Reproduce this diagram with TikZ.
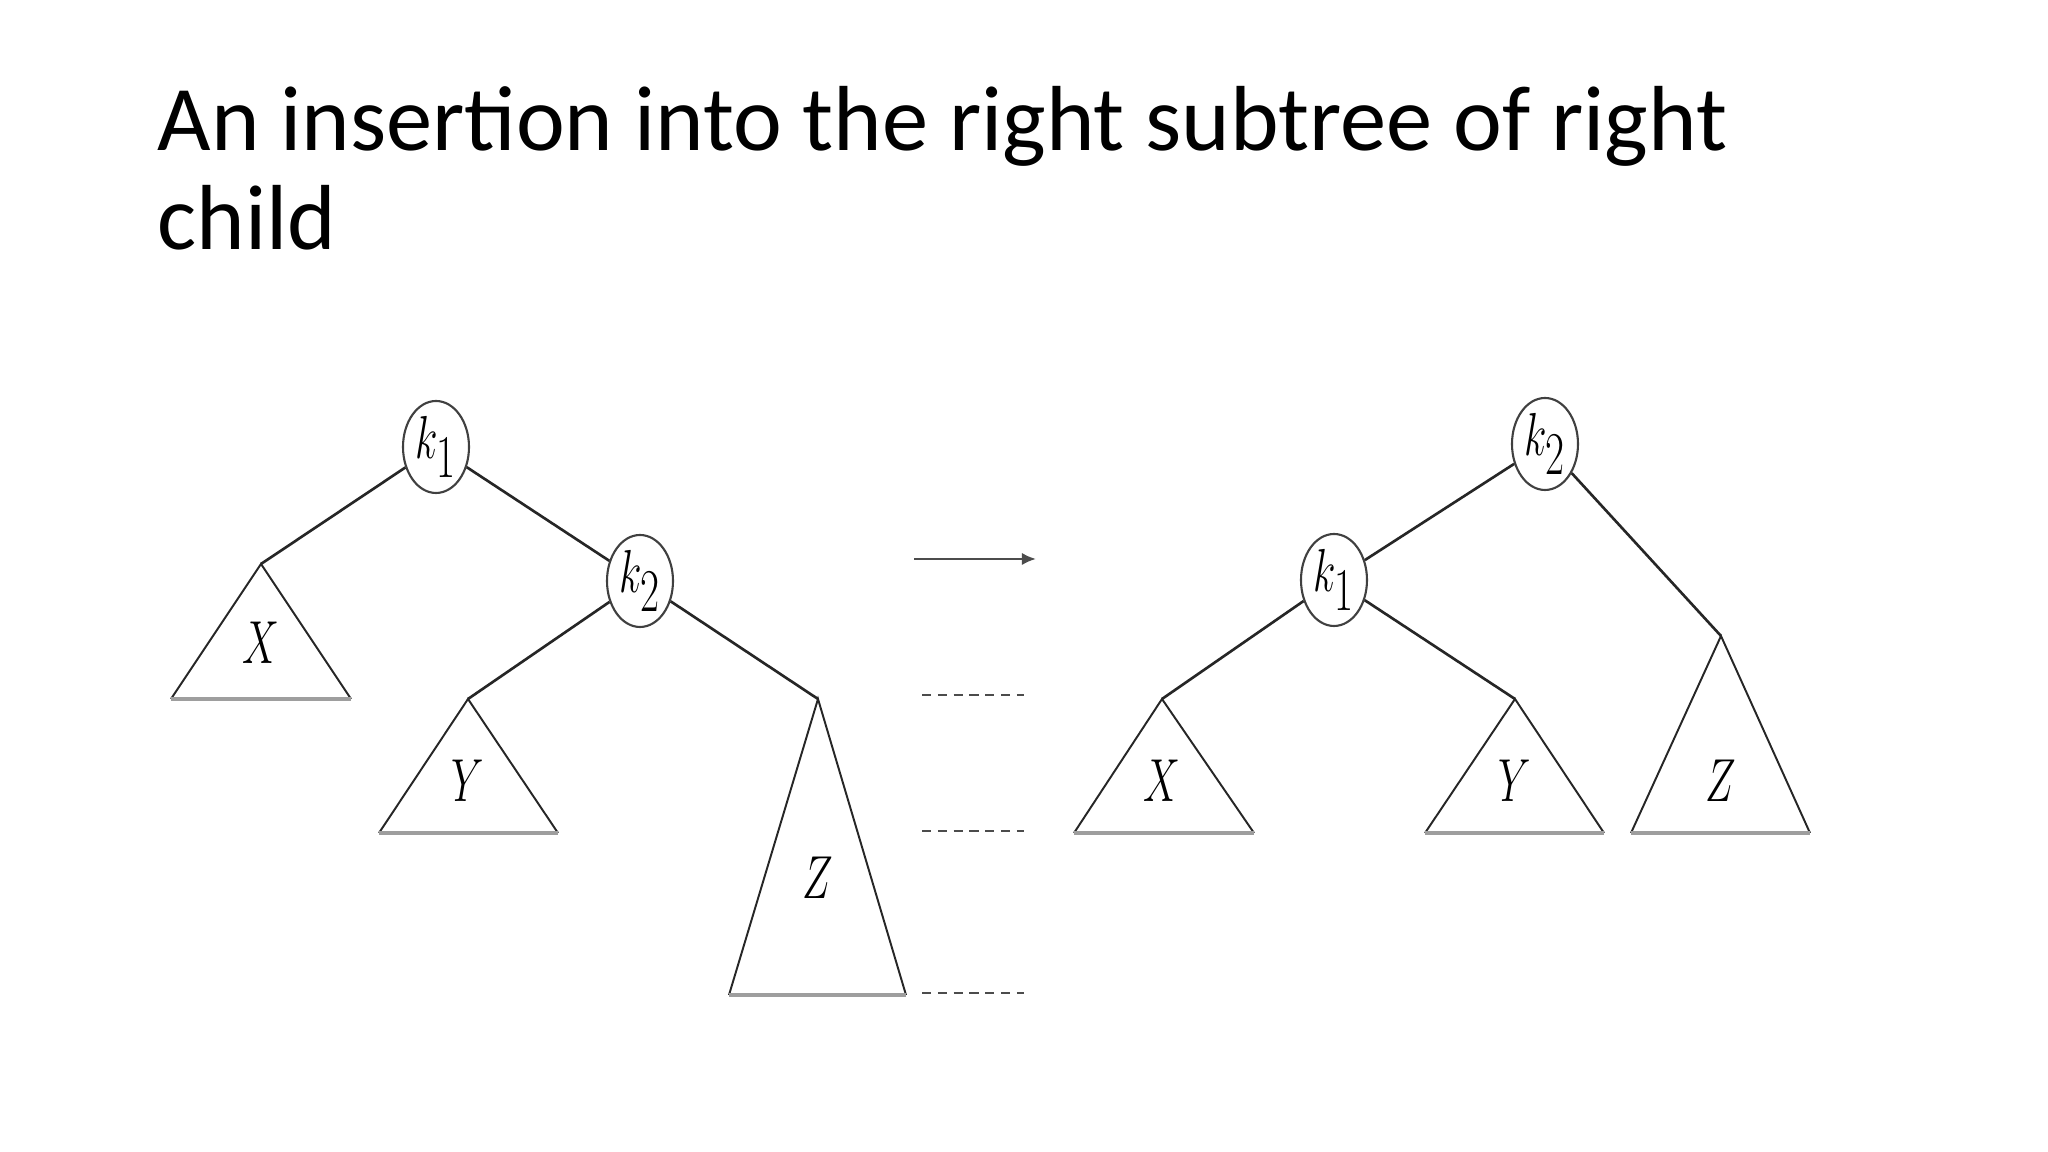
\documentclass[tikz,border=0pt]{standalone}
\usepackage{fontspec}
\setmainfont{Carlito}
\usepackage{graphicx}
\usetikzlibrary{shapes.geometric,arrows.meta}
\tikzset{
	keynode/.style={ellipse, draw=black!75, line width=0.6pt, inner sep=0pt, minimum width=0.66cm, minimum height=0.92cm, font=\fontsize{16}{16}\selectfont},
	edge/.style={line width=0.75pt, color=black!85},
	side/.style={line width=0.55pt, color=black!85},
	base/.style={line width=1.3pt, color=black!38},
	sublabel/.style={inner sep=0pt, font=\fontsize{17}{17}\selectfont},
	dashline/.style={line width=0.8pt, color=black!70, dash pattern=on 2.6pt off 1.9pt}
}
\newcommand{\narrow}[1]{\scalebox{0.68}[1]{#1}}

\begin{document}
\begin{tikzpicture}
		%%%%% START %%%%%
		\useasboundingbox[fill=white] (0, 0) rectangle (20.48, 11.52);
		
		\node[anchor=north west, align=left, inner sep=0pt, font=\fontsize{26.3}{28}\selectfont] (title) at (1.57, 10.66) {An insertion into the right subtree of right\\child};
		
		%%%%% before rotation %%%%%
		\node[keynode] (k1a) at (4.36, 7.05) {\narrow{$k_{\textstyle 1}$}};
		\node[keynode] (k2a) at (6.40, 5.71) {\narrow{$k_{\textstyle 2}$}};
		\coordinate (xa) at (2.61, 5.88);
		\coordinate (ya) at (4.68, 4.53);
		\coordinate (za) at (8.18, 4.53);
		
		\draw[edge] (k1a) -- (xa);
		\draw[edge] (k1a) -- (k2a);
		\draw[edge] (k2a) -- (ya);
		\draw[edge] (k2a) -- (za);
		
		\draw[side] (1.71, 4.53) -- (xa) -- (3.51, 4.53);
		\draw[base] (1.71, 4.53) -- (3.51, 4.53);
		\node[sublabel] (xla) at (2.61, 5.09) {\narrow{$X$}};
		
		\draw[side] (3.79, 3.19) -- (ya) -- (5.58, 3.19);
		\draw[base] (3.79, 3.19) -- (5.58, 3.19);
		\node[sublabel] (yla) at (4.68, 3.71) {\narrow{$Y$}};
		
		\draw[side] (7.29, 1.57) -- (za) -- (9.06, 1.57);
		\draw[base] (7.29, 1.57) -- (9.06, 1.57);
		\node[sublabel] (zla) at (8.18, 2.74) {\narrow{$Z$}};
		
		%%%%% arrow and level marks %%%%%
		\coordinate (arrs) at (9.14, 5.93);
		\coordinate (arre) at (10.36, 5.93);
		\draw[line width=0.7pt, color=black!70, -{Latex[length=4pt, width=3.5pt]}] (arrs) -- (arre);
		\foreach \ly in {4.57, 3.21, 1.59}
			\draw[dashline] (9.22, \ly) -- (10.24, \ly);
		
		%%%%% after rotation %%%%%
		\node[keynode] (k2b) at (15.45, 7.08) {\narrow{$k_{\textstyle 2}$}};
		\node[keynode] (k1b) at (13.34, 5.72) {\narrow{$k_{\textstyle 1}$}};
		\coordinate (xb) at (11.62, 4.53);
		\coordinate (yb) at (15.15, 4.53);
		\coordinate (zb) at (17.21, 5.16);
		
		\draw[edge] (k2b) -- (k1b);
		\draw[edge] (k2b) -- (zb);
		\draw[edge] (k1b) -- (xb);
		\draw[edge] (k1b) -- (yb);
		
		\draw[side] (10.74, 3.19) -- (xb) -- (12.54, 3.19);
		\draw[base] (10.74, 3.19) -- (12.54, 3.19);
		\node[sublabel] (xlb) at (11.62, 3.71) {\narrow{$X$}};
		
		\draw[side] (14.25, 3.19) -- (yb) -- (16.04, 3.19);
		\draw[base] (14.25, 3.19) -- (16.04, 3.19);
		\node[sublabel] (ylb) at (15.15, 3.71) {\narrow{$Y$}};
		
		\draw[side] (16.31, 3.19) -- (zb) -- (18.10, 3.19);
		\draw[base] (16.31, 3.19) -- (18.10, 3.19);
		\node[sublabel] (zlb) at (17.21, 3.71) {\narrow{$Z$}};
		
		%%%%% END %%%%%
	\end{tikzpicture}
\end{document}
